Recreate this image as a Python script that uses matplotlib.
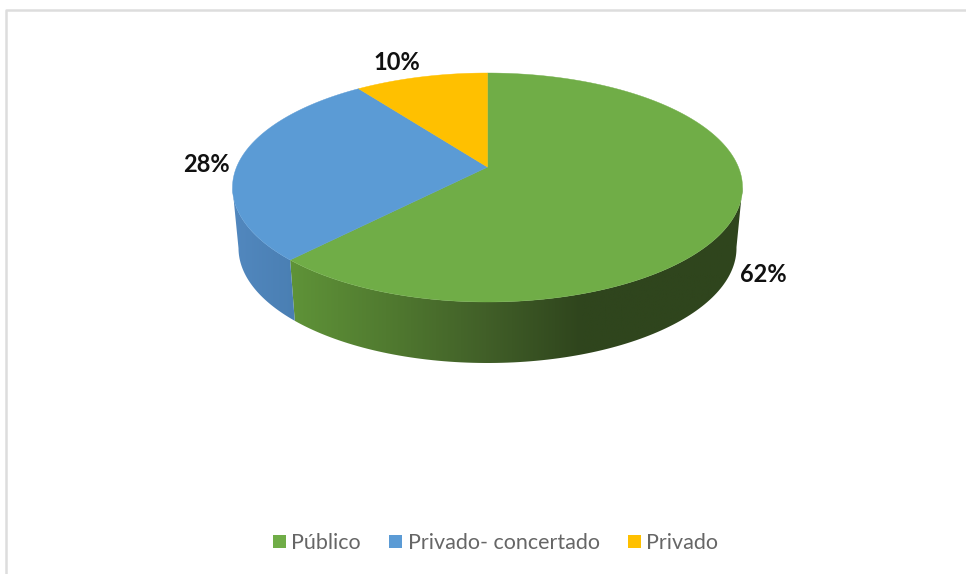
import numpy as np
import matplotlib
matplotlib.use('Agg')
import matplotlib.pyplot as plt
from matplotlib.patches import Polygon, Patch
from matplotlib.colors import LinearSegmentedColormap

categories = ['Público', 'Privado- concertado', 'Privado']
values = [62, 28, 10]
colors = ['#70AD47', '#5B9BD5', '#FFC000']

plt.rcParams['font.family'] = ['Lato', 'DejaVu Sans']

# pie geometry in pixels, the top disc is seen in perspective
cx, cy, rx, ry = 487.5, 187.5, 255, 114.5
cy2, rx2, ry2 = 248, 249, 115
persp = 0.178


def rim(frac, y0, a, b):
    # clockwise from 12 o'clock, frac is 0..1 of the whole pie
    t = 2 * np.pi * np.asarray(frac)
    u, v = np.sin(t), np.cos(t)
    d = 1 + persp * v
    x = u * np.sqrt(1 - persp ** 2) / d
    y = (v + persp) / d
    return cx + a * x, y0 - b * y


fig = plt.figure(figsize=(9.66, 5.74), dpi=100)
ax = fig.add_axes([0, 0, 1, 1])
ax.set_xlim(0, 966)
ax.set_ylim(574, 0)
ax.axis('off')

# grey frame of the pasted chart
ax.plot([5.5, 5.5, 966], [574, 9.5, 9.5], color='#dddddd', lw=1.8, zorder=1)

fracs = np.cumsum([0] + values) / sum(values)

# side wall gradients, x stop and colour
green_side = LinearSegmentedColormap.from_list('g', [(0, '#5f9338'), (0.21, '#517b30'), (0.43, '#415f28'),
                                                     (0.64, '#2f451d'), (1, '#2f451d')])
blue_side = LinearSegmentedColormap.from_list('b', [(0, '#5288bf'), (1, '#4a7fb3')])
side_info = {0: (green_side, 290, 745), 1: (blue_side, 230, 295)}

for i, (cmap, x0, x1) in side_info.items():
    f = np.linspace(fracs[i], fracs[i + 1], 200)
    tx, ty = rim(f, cy, rx, ry)
    bx, by = rim(f, cy2, rx2, ry2)
    if i == 0:
        # wall is only seen from the right end of the disc on
        start = np.argmax(tx)
        tx, ty, bx, by = tx[start:], ty[start:], bx[start:], by[start:]
    else:
        # and up to the left end
        stop = np.argmin(tx) + 1
        tx, ty, bx, by = tx[:stop], ty[:stop], bx[:stop], by[:stop]
    pts = np.r_[np.c_[tx, ty], np.c_[bx, by][::-1]]
    clip = Polygon(pts, closed=True, fc='none', ec='none', transform=ax.transData)
    ax.add_patch(clip)
    grad = np.linspace(0, 1, 256).reshape(1, -1)
    im = ax.imshow(grad, cmap=cmap, extent=[x0, x1, 380, 170], aspect='auto', zorder=2)
    im.set_clip_path(clip)
ax.set_xlim(0, 966)
ax.set_ylim(574, 0)

# top disc slices, all meet at the perspective centre
apex = (cx, cy - persp * ry)
for i, col in enumerate(colors):
    f = np.linspace(fracs[i], fracs[i + 1], 200)
    x, y = rim(f, cy, rx, ry)
    pts = np.r_[[apex], np.c_[x, y]]
    ax.add_patch(Polygon(pts, closed=True, fc=col, ec=col, lw=0.3, zorder=3))

# data labels
label_pos = [(763.5, 274), (206.5, 164), (396.5, 62)]
for v, (lx, ly) in zip(values, label_pos):
    ax.text(lx, ly, f'{v}%', ha='center', va='center', fontsize=17, fontweight='bold', color='#111111')

handles = [Patch(fc=c, ec='none') for c in colors]
ax.legend(handles, categories, loc='center', bbox_to_anchor=(495.5 / 966, 1 - 543 / 574), ncol=3, frameon=False,
          fontsize=15.5, labelcolor='#666666', handlelength=0.6, handleheight=0.6, handletextpad=0.26,
          columnspacing=1.31, borderpad=0, borderaxespad=0)

fig.savefig('out.png', dpi=100)
